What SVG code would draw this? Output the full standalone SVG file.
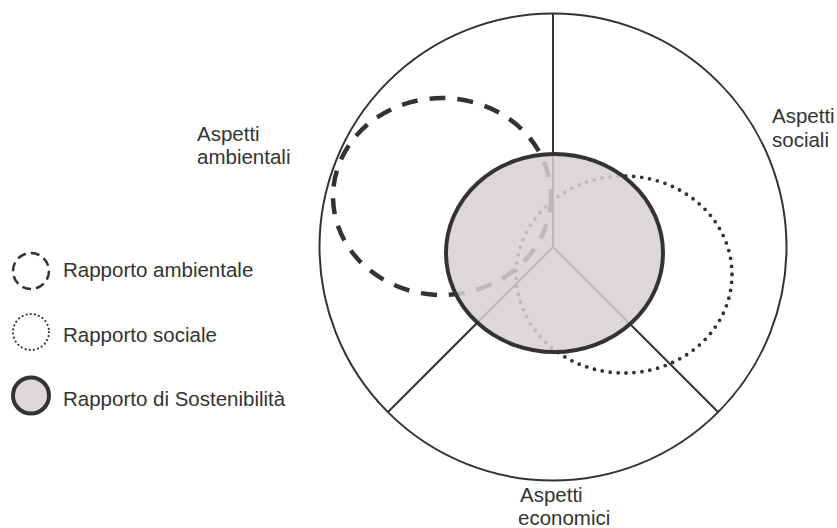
<svg xmlns="http://www.w3.org/2000/svg" width="837" height="528" viewBox="0 0 837 528">
<style>
.t{font-family:"Liberation Sans",Arial,sans-serif;font-size:20.5px;fill:#333}
.ln{fill:none;stroke:#333;stroke-width:2}
.dash{fill:none;stroke:#333;stroke-width:4.5;stroke-dasharray:16 12}
.dot{fill:none;stroke:#333;stroke-width:3.8;stroke-linecap:round;stroke-dasharray:0 8}
.sust{fill:#d8d0d0;fill-opacity:0.85;stroke:#333;stroke-width:4}
</style>
<rect width="837" height="528" fill="#fff"/>
<g id="outer">
<circle cx="553" cy="247" r="233.5" class="ln"/>
</g>
<g id="connectors">
<line x1="553" y1="247" x2="553" y2="13.5" class="ln"/>
<line x1="553" y1="247" x2="388" y2="412" class="ln"/>
<line x1="553" y1="247" x2="718" y2="412" class="ln"/>
</g>
<g id="rapporto-ambientale">
<ellipse cx="442" cy="196.5" rx="109" ry="98.5" class="dash"/>
</g>
<g id="rapporto-sociale">
<ellipse cx="624" cy="274.5" rx="108" ry="98.5" class="dot"/>
</g>
<g id="rapporto-sostenibilita">
<ellipse cx="554.5" cy="253" rx="108.5" ry="99" class="sust"/>
</g>
<g id="label-ambientali">
<text class="t" x="197" y="141">Aspetti</text>
<text class="t" x="197" y="164">ambientali</text>
</g>
<g id="label-sociali">
<text class="t" x="772" y="123">Aspetti</text>
<text class="t" x="772" y="147">sociali</text>
</g>
<g id="label-economici">
<text class="t" x="520" y="502">Aspetti</text>
<text class="t" x="518" y="525">economici</text>
</g>
<g id="legend">
<circle cx="31" cy="271" r="18" fill="none" stroke="#333" stroke-width="2.5" stroke-dasharray="9 5"/>
<circle cx="31" cy="332" r="18" fill="none" stroke="#333" stroke-width="2.2" stroke-linecap="round" stroke-dasharray="0 4.2"/>
<circle cx="31" cy="395.5" r="18" class="sust" stroke-width="3"/>
<text class="t" x="63" y="277">Rapporto ambientale</text>
<text class="t" x="63" y="342">Rapporto sociale</text>
<text class="t" x="63" y="406">Rapporto di Sostenibilità</text>
</g>
</svg>
